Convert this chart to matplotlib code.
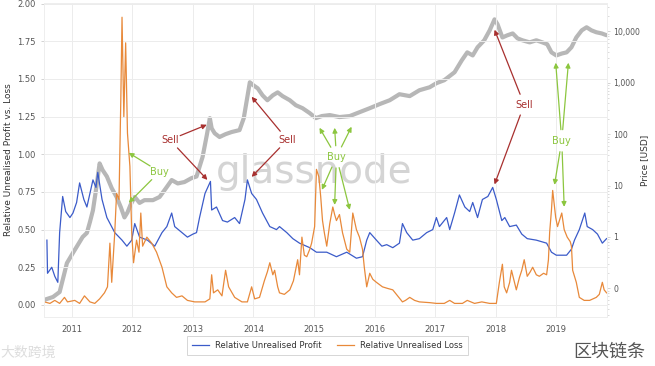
import numpy as np
import matplotlib
matplotlib.use("Agg")
import matplotlib.pyplot as plt
from matplotlib.ticker import FuncFormatter, LogLocator, NullFormatter

plt.rcParams['font.family'] = ['DejaVu Sans', 'Noto Sans CJK SC']

# Relative Unrealised Profit (left axis)
profit_years = [2010.59, 2010.60, 2010.67, 2010.72, 2010.77, 2010.80, 2010.85, 2010.90, 2010.97, 2011.02,
                2011.08, 2011.13, 2011.20, 2011.25, 2011.35, 2011.40, 2011.43, 2011.50, 2011.58, 2011.71,
                2011.83, 2011.91, 2011.99, 2012.04, 2012.12, 2012.25, 2012.37, 2012.49, 2012.57, 2012.65,
                2012.70, 2012.82, 2012.91, 2013.00, 2013.06, 2013.11, 2013.20, 2013.29, 2013.31, 2013.39,
                2013.49, 2013.57, 2013.69, 2013.77, 2013.86, 2013.90, 2013.97, 2014.05, 2014.15, 2014.27,
                2014.38, 2014.43, 2014.55, 2014.65, 2014.76, 2014.93, 2015.04, 2015.21, 2015.37, 2015.54,
                2015.70, 2015.80, 2015.87, 2015.92, 2016.03, 2016.12, 2016.20, 2016.30, 2016.41, 2016.46,
                2016.53, 2016.63, 2016.74, 2016.86, 2016.96, 2017.02, 2017.07, 2017.19, 2017.24, 2017.32,
                2017.40, 2017.49, 2017.57, 2017.62, 2017.70, 2017.78, 2017.87, 2017.95, 2018.01, 2018.10,
                2018.15, 2018.23, 2018.34, 2018.43, 2018.52, 2018.67, 2018.84, 2018.92, 2019.00, 2019.17,
                2019.25, 2019.30, 2019.38, 2019.47, 2019.51, 2019.60, 2019.68, 2019.76, 2019.83]
profit_values = [0.43, 0.21, 0.25, 0.19, 0.15, 0.48, 0.72, 0.62, 0.58, 0.61,
                 0.68, 0.81, 0.70, 0.65, 0.83, 0.78, 0.88, 0.70, 0.58, 0.48,
                 0.43, 0.39, 0.43, 0.54, 0.45, 0.43, 0.39, 0.48, 0.52, 0.61,
                 0.52, 0.48, 0.45, 0.47, 0.48, 0.58, 0.74, 0.82, 0.63, 0.65,
                 0.56, 0.55, 0.58, 0.54, 0.70, 0.83, 0.74, 0.70, 0.61, 0.52,
                 0.50, 0.52, 0.48, 0.44, 0.41, 0.38, 0.35, 0.35, 0.32, 0.35,
                 0.31, 0.32, 0.43, 0.48, 0.43, 0.39, 0.40, 0.38, 0.41, 0.54,
                 0.48, 0.43, 0.44, 0.48, 0.50, 0.58, 0.52, 0.58, 0.50, 0.61,
                 0.73, 0.65, 0.62, 0.68, 0.58, 0.70, 0.72, 0.78, 0.70, 0.56,
                 0.58, 0.52, 0.53, 0.47, 0.44, 0.43, 0.41, 0.35, 0.33, 0.33,
                 0.37, 0.43, 0.50, 0.61, 0.52, 0.50, 0.47, 0.41, 0.44]

# Relative Unrealised Loss (left axis)
loss_years = [2010.55, 2010.64, 2010.72, 2010.80, 2010.88, 2010.93, 2011.05, 2011.13, 2011.21, 2011.30,
              2011.38, 2011.46, 2011.54, 2011.59, 2011.63, 2011.66, 2011.71, 2011.74, 2011.78, 2011.81,
              2011.83, 2011.86, 2011.89, 2011.92, 2011.96, 2011.99, 2012.02, 2012.07, 2012.11, 2012.14,
              2012.17, 2012.24, 2012.32, 2012.40, 2012.49, 2012.57, 2012.65, 2012.73, 2012.82, 2012.91,
              2013.03, 2013.20, 2013.28, 2013.31, 2013.34, 2013.41, 2013.48, 2013.54, 2013.59, 2013.69,
              2013.81, 2013.90, 2013.97, 2014.02, 2014.10, 2014.18, 2014.23, 2014.27, 2014.32, 2014.35,
              2014.40, 2014.43, 2014.51, 2014.60, 2014.66, 2014.73, 2014.76, 2014.80, 2014.84, 2014.88,
              2014.93, 2014.96, 2015.01, 2015.04, 2015.08, 2015.11, 2015.14, 2015.17, 2015.21, 2015.26,
              2015.31, 2015.34, 2015.37, 2015.42, 2015.47, 2015.54, 2015.59, 2015.64, 2015.70, 2015.75,
              2015.80, 2015.83, 2015.87, 2015.92, 2015.97, 2016.03, 2016.13, 2016.21, 2016.30, 2016.38,
              2016.46, 2016.51, 2016.58, 2016.66, 2016.74, 2016.91, 2017.02, 2017.15, 2017.24, 2017.32,
              2017.45, 2017.53, 2017.65, 2017.77, 2017.90, 2018.01, 2018.06, 2018.11, 2018.14, 2018.18,
              2018.23, 2018.26, 2018.31, 2018.34, 2018.39, 2018.43, 2018.47, 2018.52, 2018.57, 2018.61,
              2018.67, 2018.72, 2018.79, 2018.84, 2018.87, 2018.89, 2018.92, 2018.94, 2018.97, 2018.99,
              2019.02, 2019.09, 2019.13, 2019.18, 2019.23, 2019.25, 2019.27, 2019.33, 2019.38, 2019.46,
              2019.55, 2019.66, 2019.71, 2019.76, 2019.79, 2019.83]
loss_values = [0.02, 0.01, 0.03, 0.01, 0.05, 0.02, 0.03, 0.01, 0.06, 0.02,
               0.01, 0.04, 0.08, 0.12, 0.41, 0.15, 0.48, 0.74, 0.70, 1.36,
               1.91, 1.25, 1.74, 1.14, 0.92, 0.48, 0.28, 0.43, 0.35, 0.61,
               0.39, 0.45, 0.41, 0.35, 0.25, 0.12, 0.08, 0.05, 0.06, 0.03,
               0.02, 0.02, 0.04, 0.20, 0.08, 0.10, 0.06, 0.23, 0.12, 0.05,
               0.02, 0.02, 0.12, 0.04, 0.05, 0.16, 0.22, 0.28, 0.20, 0.23,
               0.12, 0.08, 0.07, 0.10, 0.16, 0.30, 0.20, 0.45, 0.33, 0.32,
               0.37, 0.41, 0.52, 0.90, 0.85, 0.72, 0.56, 0.48, 0.39, 0.54,
               0.65, 0.60, 0.56, 0.60, 0.48, 0.37, 0.35, 0.61, 0.50, 0.45,
               0.37, 0.25, 0.12, 0.21, 0.17, 0.15, 0.12, 0.11, 0.10, 0.06,
               0.02, 0.03, 0.05, 0.03, 0.02, 0.015, 0.01, 0.01, 0.03, 0.01,
               0.01, 0.03, 0.01, 0.02, 0.01, 0.01, 0.15, 0.27, 0.12, 0.08,
               0.15, 0.23, 0.15, 0.10, 0.18, 0.23, 0.30, 0.19, 0.22, 0.25,
               0.20, 0.19, 0.21, 0.20, 0.30, 0.48, 0.63, 0.76, 0.65, 0.58,
               0.52, 0.61, 0.50, 0.45, 0.42, 0.39, 0.23, 0.15, 0.05, 0.03,
               0.03, 0.05, 0.07, 0.15, 0.10, 0.08]

# BTC price in USD (right axis, log)
price_years = [2010.55, 2010.69, 2010.80, 2010.87, 2010.92, 2011.02, 2011.08, 2011.18, 2011.25, 2011.30,
               2011.35, 2011.40, 2011.46, 2011.51, 2011.58, 2011.66, 2011.74, 2011.81, 2011.87, 2011.92,
               2011.97, 2012.04, 2012.12, 2012.20, 2012.34, 2012.45, 2012.57, 2012.65, 2012.75, 2012.86,
               2012.98, 2013.06, 2013.16, 2013.23, 2013.28, 2013.31, 2013.36, 2013.44, 2013.54, 2013.64,
               2013.77, 2013.84, 2013.89, 2013.94, 2014.00, 2014.07, 2014.15, 2014.23, 2014.32, 2014.40,
               2014.48, 2014.60, 2014.70, 2014.81, 2014.93, 2015.03, 2015.13, 2015.26, 2015.42, 2015.59,
               2015.75, 2015.92, 2016.08, 2016.25, 2016.41, 2016.58, 2016.74, 2016.91, 2017.02, 2017.15,
               2017.32, 2017.44, 2017.53, 2017.62, 2017.70, 2017.81, 2017.90, 2017.98, 2018.03, 2018.11,
               2018.19, 2018.28, 2018.36, 2018.44, 2018.56, 2018.67, 2018.77, 2018.85, 2018.92, 2019.00,
               2019.09, 2019.17, 2019.25, 2019.33, 2019.42, 2019.50, 2019.58, 2019.66, 2019.75, 2019.83]
price_values = [0.06, 0.068, 0.085, 0.18, 0.31, 0.49, 0.64, 1.0, 1.2, 1.95,
                3.3, 8.2, 27, 20, 15, 8.9, 6.0, 3.8, 2.4, 3.0,
                4.2, 6.0, 4.6, 5.2, 5.2, 6.0, 9.4, 12.8, 11, 11.7,
                14, 15, 36, 96, 205, 130, 104, 88, 100, 110,
                120, 205, 457, 1020, 890, 780, 570, 457, 570, 650,
                550, 457, 365, 320, 256, 205, 225, 235, 215, 225,
                267, 320, 383, 457, 598, 550, 715, 818, 980, 1120,
                1600, 2735, 3900, 3400, 4900, 6700, 10450, 17100, 13700, 7600,
                8360, 9100, 7300, 6700, 6100, 6700, 6100, 5600, 3900, 3400,
                3700, 3900, 4900, 7600, 10450, 12000, 10450, 9600, 9100, 8400]

year_ticks = [2011, 2012, 2013, 2014, 2015, 2016, 2017, 2018, 2019]
left_ticks = [0.0, 0.25, 0.5, 0.75, 1.0, 1.25, 1.5, 1.75, 2.0]
price_ticks = [0.1, 1, 10, 100, 1000, 10000]

BLUE = '#3b5bc9'
ORANGE = '#e8893a'
GREY = '#b3b3b3'
SELL = '#a8302f'
BUY = '#8cc63f'
TICK = '#555555'

fig = plt.figure(figsize=(6.55, 3.66), dpi=100)
ax = fig.add_axes([0.067, 0.134, 0.86, 0.858])
ax2 = ax.twinx()

# price behind the ratio lines
ax2.set_zorder(1)
ax.set_zorder(2)
ax.patch.set_visible(False)

ax2.plot(price_years, price_values, color=GREY, lw=3.0, alpha=0.95, solid_capstyle='round')
ax2.set_yscale('log')
ax2.set_ylim(0.0278, 35700)
ax2.set_yticks(price_ticks)
ax2.yaxis.set_major_formatter(FuncFormatter(lambda v, p: f"{v:,.0f}"))
ax2.yaxis.set_minor_locator(LogLocator(base=10, subs=np.arange(2, 10)))
ax2.yaxis.set_minor_formatter(NullFormatter())
ax2.set_ylabel("Price [USD]", fontsize=6.5, color='#333333')
ax2.yaxis.set_label_coords(1.058, 0.5)

ax.plot(profit_years, profit_values, color=BLUE, lw=0.9, label="Relative Unrealised Profit")
ax.plot(loss_years, loss_values, color=ORANGE, lw=0.9, label="Relative Unrealised Loss")
ax.set_ylim(-0.08, 2.005)
ax.set_xlim(2010.54, 2019.84)
ax.set_yticks(left_ticks)
ax.yaxis.set_major_formatter(FuncFormatter(lambda v, p: f"{v:.2f}"))
ax.set_xticks(year_ticks)
ax.set_xticklabels([str(y) for y in year_ticks])
ax.set_ylabel("Relative Unrealised Profit vs. Loss", fontsize=6.5, color='#333333', labelpad=3)

ax2.grid(False)
ax.grid(True, color='#ececec', lw=0.7)
ax.set_axisbelow(True)
for a in (ax, ax2):
    for s in a.spines.values():
        s.set_color('#eeeeee')
        s.set_linewidth(0.7)
    a.tick_params(labelsize=6, colors='#cccccc', labelcolor=TICK, length=2.5, width=0.6)
ax2.tick_params(axis='y', labelsize=5.6, pad=2)
ax.tick_params(axis='x', length=0, pad=6)
ax2.tick_params(which='minor', length=1.5, width=0.5, colors='#cccccc')

# watermark
ax.text(2015.0, 0.88, "glassnode", fontsize=28, color='#c6c6c6', alpha=0.75,
        ha='center', va='center', zorder=0)

# annotations: one label, several arrows starting near it
arrow_sell = dict(arrowstyle='-|>', color=SELL, lw=0.9, mutation_scale=7, shrinkA=8, shrinkB=0)
arrow_buy = dict(arrowstyle='-|>', color=BUY, lw=0.9, mutation_scale=7, shrinkA=8, shrinkB=0)

def notes(label, pos, targets, color, arrow):
    ax.text(pos[0], pos[1], label, fontsize=7, ha='center', va='center', color=color, zorder=6)
    for t in targets:
        ax.annotate("", xy=t, xytext=pos, arrowprops=arrow, zorder=5)

notes("Sell", (2012.62, 1.096), [(2013.23, 1.196), (2013.24, 0.83)], SELL, arrow_sell)
notes("Sell", (2014.56, 1.096), [(2013.97, 1.382), (2013.97, 0.85)], SELL, arrow_sell)
notes("Sell", (2018.47, 1.33), [(2017.98, 1.827), (2017.98, 0.80)], SELL, arrow_sell)
notes("Buy", (2012.45, 0.884), [(2011.94, 1.01), (2011.94, 0.678)], BUY, arrow_buy)
notes("Buy", (2015.37, 0.983), [(2015.09, 1.176), (2015.34, 1.176), (2015.62, 1.183),
                                (2015.13, 0.764), (2015.34, 0.664), (2015.59, 0.631)], BUY, arrow_buy)
notes("Buy", (2019.09, 1.09), [(2018.99, 1.608), (2019.20, 1.608),
                               (2018.97, 0.797), (2019.13, 0.651)], BUY, arrow_buy)

leg = fig.legend(loc='center', bbox_to_anchor=(0.5, 0.057), ncol=2, fontsize=6,
                 frameon=True, fancybox=False, edgecolor='#cccccc', handlelength=2.0,
                 columnspacing=1.8, borderpad=0.6)
leg.get_frame().set_linewidth(0.7)
for t in leg.get_texts():
    t.set_color('#333333')

fig.text(0.985, 0.04, "区块链条", fontsize=13, color='#555555', ha='right', va='center',
         family=['Noto Sans CJK SC', 'DejaVu Sans'])
fig.text(0.0, 0.035, "大数跨境", fontsize=10, color='#dddddd', ha='left', va='center',
         family=['Noto Sans CJK SC', 'DejaVu Sans'])

fig.savefig("out.png", dpi=100)
